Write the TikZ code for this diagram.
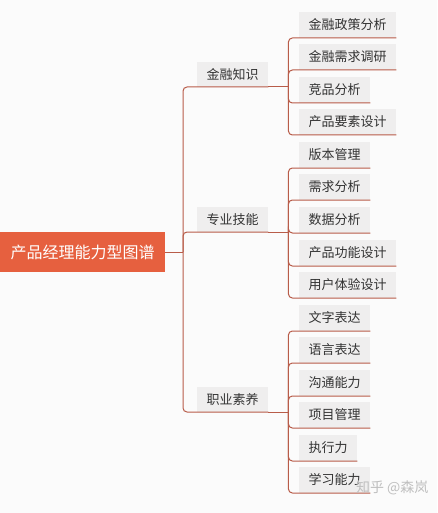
\documentclass[tikz,border=0pt]{standalone}
\usepackage{fontspec}
\setmainfont{Noto Sans CJK SC}
\usepackage{tikz}
\usetikzlibrary{positioning}
\definecolor{rootred}{HTML}{E6603F}
\definecolor{boxgray}{HTML}{EFEEEE}
\definecolor{linkred}{HTML}{B85C49}
\definecolor{bg}{HTML}{FBFBFB}
\tikzstyle{root} = [rectangle, fill=rootred, text=white, font=\fontsize{16}{18}\selectfont, minimum width=165, minimum height=40, anchor=west]
\tikzstyle{topic} = [rectangle, fill=boxgray, text=black!80, font=\fontsize{13}{15}\selectfont, minimum height=25, inner xsep=9.5, anchor=south west]
\tikzstyle{leaf} = [topic, minimum height=26]
\tikzstyle{link} = [draw=linkred, line width=1pt, rounded corners=4pt]

\begin{document}
\begin{tikzpicture}[x=1pt,y=-1pt]
\useasboundingbox[fill=bg] (0,0) rectangle (437,513);
\node (root) [root] at (0,252) {产品经理能力型图谱};
\node (finance) [topic] at (197,87) {金融知识};
\node (skill) [topic] at (197,232) {专业技能};
\node (quality) [topic] at (197,412) {职业素养};

\coordinate (rootfork) at (183,252);
\draw [link] (root.east) -- (rootfork);
\foreach \t in {finance,skill,quality}
  \draw [link] (rootfork) |- (\t.south west) -- (\t.south east);

\draw [link] (finance.south east) -- ++(20,0) coordinate (financefork);
\draw [link] (skill.south east) -- ++(20,0) coordinate (skillfork);
\draw [link] (quality.south east) -- ++(20,0) coordinate (qualityfork);

% leaves
\foreach \n/\txt/\y in {policy/金融政策分析/38, demand/金融需求调研/70, compete/竞品分析/103, element/产品要素设计/135}{
  \node (\n) [leaf] at (299,\y) {\txt};
  \draw [link] (financefork) |- (\n.south west) -- (\n.south east);
}
\foreach \n/\txt/\y in {version/版本管理/168, require/需求分析/200, data/数据分析/233, feature/产品功能设计/266, ux/用户体验设计/298}{
  \node (\n) [leaf] at (299,\y) {\txt};
  \draw [link] (skillfork) |- (\n.south west) -- (\n.south east);
}
\foreach \n/\txt/\y in {writing/文字表达/331, speech/语言表达/363, comm/沟通能力/396, project/项目管理/428, execute/执行力/461, learn/学习能力/493}{
  \node (\n) [leaf] at (299,\y) {\txt};
  \draw [link] (qualityfork) |- (\n.south west) -- (\n.south east);
}

\node (mark) [anchor=east, text=gray!50, font=\fontsize{14}{16}\selectfont] at (432,488) {知乎 @森岚};
\end{tikzpicture}
\end{document}
